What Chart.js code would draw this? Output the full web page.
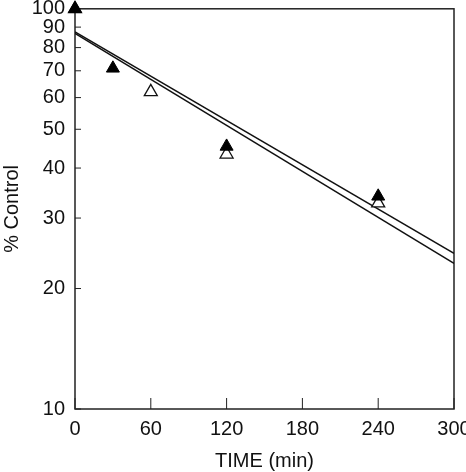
<!DOCTYPE html>
<html>
<head>
<meta charset="utf-8">
<script src="https://cdn.jsdelivr.net/npm/chart.js@4/dist/chart.umd.min.js"></script>
<style>
  html, body { margin: 0; padding: 0; background: #fff; }
  #wrap { width: 466px; height: 472px; }
</style>
</head>
<body>
<div id="wrap"><canvas id="grafico" width="466" height="472"></canvas></div>
<script>
// Dados (tempo em min, % do controle)
const tempoCheio = [0, 30, 120, 240];
const controleCheio = [100, 71, 45.3, 34];
const tempoAberto = [0, 60, 120, 240];
const controleAberto = [100, 62, 43.3, 32.7];
// Retas de regressão (extremos)
const retaTempo = [0, 300];
const retaA = [87.6, 24.5];
const retaB = [86.8, 23.1];
// Ticks dos eixos
const ticksX = [0, 60, 120, 180, 240, 300];
const ticksY = [10, 20, 30, 40, 50, 60, 70, 80, 90, 100];

const fonte = { family: "'Liberation Sans', Arial, sans-serif", size: 20 };

function pontos(xs, ys) {
    return xs.map((x, i) => ({ x: x, y: ys[i] }));
}

// Moldura e ticks voltados para dentro
const moldura = {
    id: 'moldura',
    beforeDatasetsDraw(chart) {
        const ctx = chart.ctx;
        const a = chart.chartArea;
        const sx = chart.scales.x;
        const sy = chart.scales.y;
        ctx.save();
        ctx.strokeStyle = '#222';
        ctx.lineWidth = 1.5;
        ctx.strokeRect(a.left, a.top, a.right - a.left, a.bottom - a.top);
        ctx.lineWidth = 1;
        ctx.beginPath();
        ticksY.forEach(v => {
            const py = sy.getPixelForValue(v);
            ctx.moveTo(a.left, py);
            ctx.lineTo(a.left + 6, py);
        });
        ticksX.forEach(v => {
            const px = sx.getPixelForValue(v);
            ctx.moveTo(px, a.bottom);
            ctx.lineTo(px, a.bottom - 11);
        });
        ctx.stroke();
        ctx.restore();
    }
};

const estiloReta = { showLine: true, pointRadius: 0, borderColor: '#111', borderWidth: 1.5, order: 2 };

new Chart(document.getElementById('grafico').getContext('2d'), {
    type: 'scatter',
    data: {
        datasets: [
            Object.assign({ data: pontos(retaTempo, retaA) }, estiloReta),
            Object.assign({ data: pontos(retaTempo, retaB) }, estiloReta),
            {
                data: pontos(tempoAberto, controleAberto),
                pointStyle: 'triangle',
                pointRadius: 7.5,
                backgroundColor: '#fff',
                borderColor: '#111',
                borderWidth: 1.3,
                clip: false,
                order: 1
            },
            {
                data: pontos(tempoCheio, controleCheio),
                pointStyle: 'triangle',
                pointRadius: 7.5,
                backgroundColor: '#000',
                borderColor: '#000',
                borderWidth: 1,
                clip: false,
                order: 0
            }
        ]
    },
    options: {
        responsive: false,
        animation: false,
        layout: { padding: { top: 7, right: 12, left: 0, bottom: 0 } },
        plugins: { legend: { display: false }, tooltip: { enabled: false } },
        scales: {
            x: {
                type: 'linear',
                min: 0,
                max: 300,
                grid: { display: false, drawTicks: false },
                border: { display: false },
                afterBuildTicks: s => { s.ticks = ticksX.map(v => ({ value: v })); },
                afterFit: s => { s.height = 63; s.paddingLeft = 0; s.paddingRight = 0; },
                ticks: { font: fonte, color: '#111', padding: 8, maxRotation: 0, autoSkip: false },
                title: { display: true, text: 'TIME (min)', font: fonte, color: '#111', padding: { top: 0, bottom: -1 } }
            },
            y: {
                type: 'logarithmic',
                min: 10,
                max: 100,
                grid: { display: false, drawTicks: false },
                border: { display: false },
                afterBuildTicks: s => { s.ticks = ticksY.map(v => ({ value: v })); },
                afterFit: s => { s.width = 75; s.paddingTop = 0; s.paddingBottom = 0; },
                ticks: { font: fonte, color: '#111', padding: 10, autoSkip: false, callback: v => String(v) },
                title: { display: true, text: '% Control', font: fonte, color: '#111', padding: { top: 0, bottom: 0 } }
            }
        }
    },
    plugins: [moldura]
});
</script>
</body>
</html>
